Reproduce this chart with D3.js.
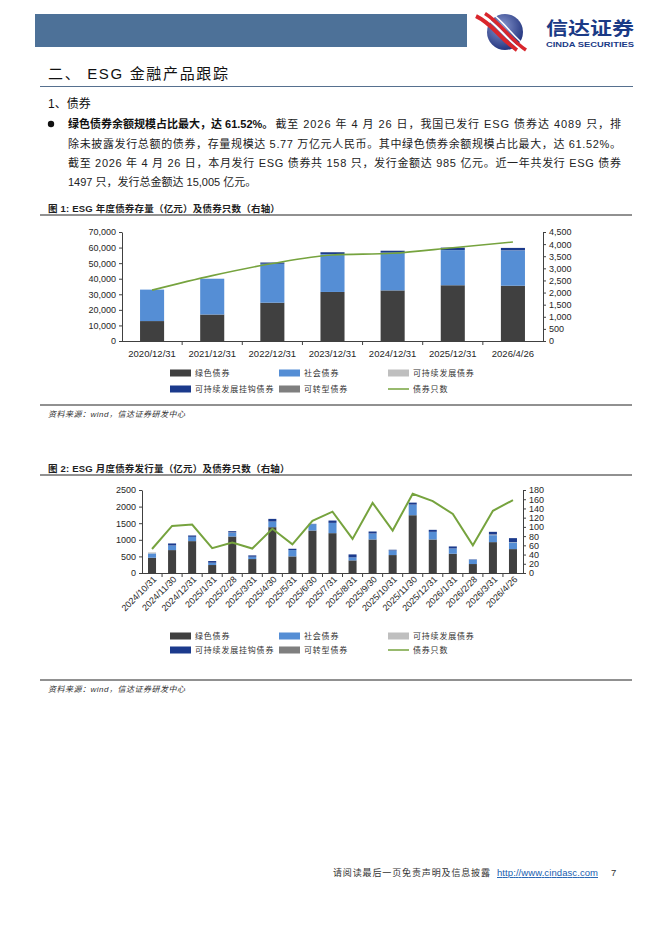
<!DOCTYPE html>
<html>
<head>
<meta charset="utf-8">
<script src="https://cdn.jsdelivr.net/npm/d3@7"></script>
<style>
  body { margin: 0; background: #fff; }
  svg { display: block; font-family: "Liberation Sans", Arial, "Noto Sans CJK SC", sans-serif; }
</style>
</head>
<body>
<svg id="page" width="662" height="936"></svg>
<script>
// ---- data: annual stock (亿元) ----
const yearCats = ["2020/12/31", "2021/12/31", "2022/12/31", "2023/12/31", "2024/12/31", "2025/12/31", "2026/4/26"];
const yearGreen = [12800, 17000, 24600, 31500, 32500, 35800, 35500];
const yearSocial = [20200, 23000, 25000, 24300, 24200, 22600, 22700];
const yearSustain = [0, 0, 0, 50, 50, 50, 50];
const yearLinked = [0, 0, 800, 1150, 1200, 1500, 1500];
const yearTransition = [0, 0, 50, 50, 50, 50, 50];
const yearCount = [2100, 2700, 3200, 3550, 3620, 3850, 4089];
const yearLeftTicks = [0, 10000, 20000, 30000, 40000, 50000, 60000, 70000];
const yearRightTicks = [0, 500, 1000, 1500, 2000, 2500, 3000, 3500, 4000, 4500];

// ---- data: monthly issuance (亿元) ----
const monthCats = ["2024/10/31", "2024/11/30", "2024/12/31", "2025/1/31", "2025/2/28", "2025/3/31", "2025/4/30",
  "2025/5/31", "2025/6/30", "2025/7/31", "2025/8/31", "2025/9/30", "2025/10/31", "2025/11/30", "2025/12/31",
  "2026/1/31", "2026/2/28", "2026/3/31", "2026/4/26"];
const monthGreen = [460, 690, 960, 240, 1100, 420, 1380, 500, 1280, 1200, 380, 1010, 540, 1740, 1010, 580, 270, 930, 720];
const monthSocial = [130, 140, 130, 70, 110, 70, 170, 190, 190, 310, 90, 180, 140, 320, 230, 160, 130, 210, 200];
const monthSustain = [30, 0, 0, 0, 10, 0, 0, 0, 0, 0, 0, 0, 0, 0, 0, 0, 0, 20, 10];
const monthLinked = [0, 60, 40, 50, 40, 40, 80, 40, 10, 70, 90, 60, 20, 60, 60, 60, 10, 80, 120];
const monthTransition = [0, 0, 0, 0, 0, 0, 0, 0, 0, 0, 0, 0, 0, 0, 0, 0, 0, 0, 0];
const monthCount = [52, 102, 105, 54, 66, 53, 96, 62, 113, 133, 74, 152, 92, 172, 156, 128, 60, 135, 158];
const monthLeftTicks = [0, 500, 1000, 1500, 2000, 2500];
const monthRightTicks = [0, 20, 40, 60, 80, 100, 120, 140, 160, 180];

const seriesKeys = ["green", "social", "sustain", "linked", "transition"];
const seriesNames = ["绿色债券", "社会债券", "可持续发展债券", "可持续发展挂钩债券", "可转型债券"];
const seriesColors = ["#404040", "#558ed5", "#bfbfbf", "#1b3a8c", "#7f7f7f"];
const lineName = "债券只数";
const lineColor = "#76a33e";

const svg = d3.select("#page");
const serif = '"Liberation Sans", Arial, "Noto Sans CJK SC", sans-serif';

// ---- page header ----
svg.append("rect").attr("x", 35).attr("y", 14).attr("width", 432).attr("height", 33).attr("fill", "#4d7198");

// logo
const defs = svg.append("defs");
const grad = defs.append("radialGradient").attr("id", "logoGrad").attr("cx", "40%").attr("cy", "35%").attr("r", "70%");
grad.append("stop").attr("offset", "0%").attr("stop-color", "#8a9ad0");
grad.append("stop").attr("offset", "100%").attr("stop-color", "#1d2f7a");
svg.append("circle").attr("cx", 505).attr("cy", 32).attr("r", 18).attr("fill", "url(#logoGrad)");
const logo = svg.append("g");
[[-7, "#d9262c", 4], [-2, "#ffffff", 2], [2, "#d9262c", 3.5], [7, "#ffffff", 1.5]].forEach(([d, c, w]) => {
  logo.append("path")
    .attr("d", `M${483 + d},${14 - d * 0.3} C${500 + d},${24} ${506 + d},${38} ${524 + d},${50}`)
    .attr("fill", "none").attr("stroke", c).attr("stroke-width", w);
});
svg.append("text").attr("x", 546).attr("y", 35).attr("font-family", '"Noto Sans CJK SC", sans-serif')
  .attr("font-weight", "bold").attr("font-size", 18).attr("fill", "#1a3a86")
  .attr("textLength", 88).attr("lengthAdjust", "spacingAndGlyphs").text("信达证券");
svg.append("text").attr("x", 546).attr("y", 47).attr("font-weight", "bold").attr("font-size", 7)
  .attr("fill", "#1a3a86").attr("textLength", 88).attr("lengthAdjust", "spacingAndGlyphs").text("CINDA SECURITIES");

// ---- headings and paragraph ----
svg.append("text").attr("x", 48).attr("y", 79).attr("font-size", 15).attr("fill", "#111")
  .attr("textLength", 180).text("二、 ESG 金融产品跟踪");
svg.append("line").attr("x1", 40).attr("x2", 633).attr("y1", 86.5).attr("y2", 86.5)
  .attr("stroke", "#56708f").attr("stroke-width", 1);
svg.append("text").attr("x", 48).attr("y", 108).attr("font-size", 12).attr("fill", "#111").text("1、债券");

svg.append("circle").attr("cx", 51).attr("cy", 124).attr("r", 3.2).attr("fill", "#111");
const bold1 = svg.append("text").attr("x", 68).attr("y", 128).attr("font-size", 11).attr("font-weight", "bold")
  .attr("fill", "#111").text("绿色债券余额规模占比最大，达 61.52%。");
const bw = bold1.node().getComputedTextLength();
svg.append("text").attr("x", 68 + bw + 2).attr("y", 128).attr("font-size", 11).attr("fill", "#222")
  .attr("textLength", 621 - 68 - bw - 2).attr("lengthAdjust", "spacing")
  .text("截至 2026 年 4 月 26 日，我国已发行 ESG 债券达 4089 只，排");
const paraLines = [
  "除未披露发行总额的债券，存量规模达 5.77 万亿元人民币。其中绿色债券余额规模占比最大，达 61.52%。",
  "截至 2026 年 4 月 26 日，本月发行 ESG 债券共 158 只，发行金额达 985 亿元。近一年共发行 ESG 债券",
  "1497 只，发行总金额达 15,005 亿元。"
];
paraLines.forEach((t, i) => {
  const el = svg.append("text").attr("x", 68).attr("y", 147.5 + i * 19).attr("font-size", 11).attr("fill", "#222").text(t);
  if (i < 2) el.attr("textLength", 553).attr("lengthAdjust", "spacing");
});

// ---- figure title / source helpers ----
function figTitle(y, t) {
  svg.append("text").attr("x", 48).attr("y", y).attr("font-size", 9.5).attr("font-weight", "bold")
    .attr("fill", "#1f1f1f").attr("letter-spacing", 0.2).text(t);
  svg.append("line").attr("x1", 40).attr("x2", 632).attr("y1", y + 3.5).attr("y2", y + 3.5)
    .attr("stroke", "#222").attr("stroke-width", 1);
}
function source(y) {
  svg.append("line").attr("x1", 40).attr("x2", 632).attr("y1", y).attr("y2", y)
    .attr("stroke", "#222").attr("stroke-width", 1);
  svg.append("text").attr("x", 48).attr("y", y + 12).attr("font-size", 8).attr("font-style", "italic")
    .attr("fill", "#333").attr("letter-spacing", 0.5).text("资料来源：wind，信达证券研发中心");
}

function legend(y1, y2) {
  const xs = [170, 279, 388];
  const items = seriesNames.map((n, i) => ({ name: n, color: seriesColors[i], line: false }));
  items.push({ name: lineName, color: lineColor, line: true });
  items.forEach((d, i) => {
    const lx = xs[i % 3];
    const ly = i < 3 ? y1 : y2;
    if (d.line) {
      svg.append("line").attr("x1", lx).attr("x2", lx + 21).attr("y1", ly).attr("y2", ly)
        .attr("stroke", d.color).attr("stroke-width", 1.5);
    } else {
      svg.append("rect").attr("x", lx).attr("y", ly - 3.5).attr("width", 21).attr("height", 7).attr("fill", d.color);
    }
    svg.append("text").attr("x", lx + 25).attr("y", ly + 3).attr("font-size", 8).attr("fill", "#333")
      .attr("letter-spacing", 0.8).text(d.name);
  });
}

function drawChart(o) {
  const rows = o.cats.map((c, i) => ({
    cat: c, green: o.green[i], social: o.social[i], sustain: o.sustain[i],
    linked: o.linked[i], transition: o.transition[i], count: o.count[i]
  }));
  const x = d3.scaleBand().domain(o.cats).range([o.left, o.right]).paddingInner(0.6).paddingOuter(0.3);
  const y = d3.scaleLinear().domain([0, d3.max(o.leftTicks)]).range([o.bottom, o.top]);
  const y2 = d3.scaleLinear().domain([0, d3.max(o.rightTicks)]).range([o.bottom, o.top]);
  const g = svg.append("g");

  const stacked = d3.stack().keys(seriesKeys)(rows);
  g.selectAll("g.layer").data(stacked).join("g").attr("class", "layer")
    .attr("fill", (d, i) => seriesColors[i])
    .selectAll("rect").data(d => d).join("rect")
    .attr("x", d => x(d.data.cat))
    .attr("y", d => y(d[1]))
    .attr("width", x.bandwidth())
    .attr("height", d => y(d[0]) - y(d[1]));

  const line = d3.line().x(d => x(d.cat) + x.bandwidth() / 2).y(d => y2(d.count)).curve(o.curve);
  g.append("path").datum(rows).attr("d", line).attr("fill", "none")
    .attr("stroke", lineColor).attr("stroke-width", o.lineWidth);

  const axisColor = "#404040";
  const yAxis = g.append("g").attr("transform", `translate(${o.left},0)`)
    .call(d3.axisLeft(y).tickValues(o.leftTicks).tickSize(3).tickSizeOuter(0).tickFormat(o.fmt));
  const yAxis2 = g.append("g").attr("transform", `translate(${o.right},0)`)
    .call(d3.axisRight(y2).tickValues(o.rightTicks).tickSize(3).tickSizeOuter(0).tickFormat(o.fmt));
  [yAxis, yAxis2].forEach(a => {
    a.select(".domain").attr("stroke", axisColor);
    a.selectAll(".tick line").attr("stroke", axisColor);
    a.selectAll("text").attr("font-size", 9).attr("fill", "#262626").attr("font-family", serif);
  });

  // x axis line and boundary ticks
  g.append("line").attr("x1", o.left).attr("x2", o.right).attr("y1", o.bottom + 0.5).attr("y2", o.bottom + 0.5)
    .attr("stroke", axisColor);
  const step = x.step();
  g.selectAll("line.xt").data(d3.range(1, o.cats.length)).join("line").attr("class", "xt")
    .attr("x1", i => o.left + i * step).attr("x2", i => o.left + i * step)
    .attr("y1", o.bottom).attr("y2", o.bottom + 4).attr("stroke", axisColor);

  if (o.rotate) {
    g.selectAll("text.xl").data(o.cats).join("text").attr("class", "xl")
      .attr("transform", d => `translate(${x(d) + x.bandwidth() / 2 + 5},${o.bottom + 7}) rotate(-45)`)
      .attr("text-anchor", "end").attr("font-size", 9).attr("fill", "#262626").text(d => d);
  } else {
    g.selectAll("text.xl").data(o.cats).join("text").attr("class", "xl")
      .attr("x", d => x(d) + x.bandwidth() / 2).attr("y", o.bottom + 16)
      .attr("text-anchor", "middle").attr("font-size", 9.5).attr("fill", "#262626").text(d => d);
  }
}

// ---- figure 1 ----
figTitle(211.5, "图 1: ESG 年度债券存量（亿元）及债券只数（右轴）");
drawChart({
  cats: yearCats, green: yearGreen, social: yearSocial, sustain: yearSustain, linked: yearLinked,
  transition: yearTransition, count: yearCount, leftTicks: yearLeftTicks, rightTicks: yearRightTicks,
  left: 122, right: 543, top: 232, bottom: 341, fmt: d3.format(","), rotate: false,
  curve: d3.curveMonotoneX, lineWidth: 1.6
});
legend(373, 389);
source(405);

// ---- figure 2 ----
figTitle(471.5, "图 2: ESG 月度债券发行量（亿元）及债券只数（右轴）");
drawChart({
  cats: monthCats, green: monthGreen, social: monthSocial, sustain: monthSustain, linked: monthLinked,
  transition: monthTransition, count: monthCount, leftTicks: monthLeftTicks, rightTicks: monthRightTicks,
  left: 142, right: 523, top: 490, bottom: 573, fmt: d3.format("d"), rotate: true,
  curve: d3.curveLinear, lineWidth: 2
});
legend(636, 650);
source(680);

// ---- footer ----
svg.append("text").attr("x", 333).attr("y", 876).attr("font-size", 9).attr("fill", "#333")
  .attr("textLength", 157).text("请阅读最后一页免责声明及信息披露");
svg.append("text").attr("x", 497).attr("y", 876).attr("font-size", 9.5).attr("fill", "#2060b0")
  .attr("text-decoration", "underline").attr("textLength", 101).text("http://www.cindasc.com");
svg.append("text").attr("x", 611).attr("y", 876).attr("font-size", 9.5).attr("fill", "#333").text("7");
</script>
</body>
</html>
